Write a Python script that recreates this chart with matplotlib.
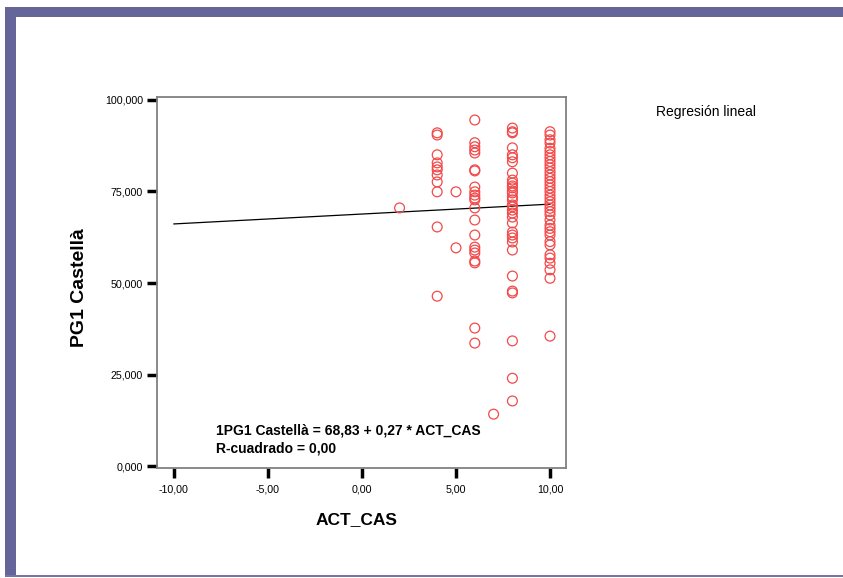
import matplotlib
matplotlib.use("Agg")
import matplotlib.pyplot as plt
from matplotlib.patches import Rectangle

plt.rcParams['font.family'] = ['Liberation Sans', 'DejaVu Sans']

# valores (ACT_CAS, PG1 Castella)
x2 = [2]
y2 = [70.5]
x4 = [4] * 11
y4 = [91.0, 90.4, 85.0, 82.8, 81.7, 80.9, 79.5, 77.6, 74.9, 65.3, 46.4]
x5 = [5] * 2
y5 = [74.9, 59.6]
x6 = [6] * 22
y6 = [94.5, 88.3, 87.2, 86.3, 85.5, 80.9, 80.6, 76.2, 74.9, 74.0, 73.2, 72.7,
      70.5, 67.2, 63.1, 59.8, 59.0, 58.2, 56.0, 55.5, 37.7, 33.6]
x7 = [7]
y7 = [14.2]
x8 = [8] * 33
y8 = [92.3, 91.3, 91.0, 86.9, 85.0, 84.2, 83.1, 80.0, 78.1, 77.3, 76.5, 76.0,
      75.1, 74.6, 72.7, 71.3, 70.8, 69.9, 69.1, 66.4, 63.9, 63.1, 62.3, 61.2,
      59.0, 51.9, 47.8, 47.3, 34.2, 24.0, 17.8, 73.5, 68.0]
x10 = [10] * 38
y10 = [91.3, 90.4, 89.1, 88.2, 86.8, 85.9, 85.0, 84.1, 83.2, 82.3, 81.4, 80.4,
       79.5, 78.6, 77.7, 76.8, 75.9, 75.0, 74.0, 73.1, 72.2, 71.3, 70.4, 69.5,
       68.6, 67.2, 65.8, 64.9, 64.0, 63.1, 61.3, 60.4, 57.7, 56.8, 55.4, 53.6,
       51.3, 35.5]

act_cas = x2 + x4 + x5 + x6 + x7 + x8 + x10
pg1 = y2 + y4 + y5 + y6 + y7 + y8 + y10

intercept = 68.83
slope = 0.27
fit_x = [-10, 10]

xticks = [-10, -5, 0, 5, 10]
xtick_labels = ['-10,00', '-5,00', '0,00', '5,00', '10,00']
yticks = [0, 25, 50, 75, 100]
ytick_labels = ['0,000', '25,000', '50,000', '75,000', '100,000']

fig = plt.figure(figsize=(8.43, 5.78), dpi=100)

# marco morado
purple = '#65659a'
W, H = 843., 578.
fig.patches.append(Rectangle((5 / W, 1 - 17 / H), 1 - 5 / W, 10 / H, transform=fig.transFigure,
                             facecolor=purple, edgecolor='none', zorder=0))
fig.patches.append(Rectangle((5 / W, 1 - 577 / H), 11 / W, 570 / H, transform=fig.transFigure,
                             facecolor=purple, edgecolor='none', zorder=0))
fig.patches.append(Rectangle((5 / W, 1 - 577 / H), 1 - 5 / W, 2 / H, transform=fig.transFigure,
                             facecolor='#7474a8', edgecolor='none', zorder=0))

ax = fig.add_axes([157 / W, 1 - 468 / H, 409 / W, 370.7 / H])
ax.scatter(act_cas, pg1, s=50, facecolors='none', edgecolors='#f24a4a', linewidths=0.9, zorder=3)
ax.plot(fit_x, [intercept + slope * v for v in fit_x], color='black', lw=0.9, zorder=2)

ax.set_xlim(-10.9, 10.85)
ax.set_ylim(-0.5, 100.7)
ax.set_xticks(xticks)
ax.set_xticklabels(xtick_labels)
ax.set_yticks(yticks)
ax.set_yticklabels(ytick_labels)
ax.tick_params(direction='out', length=7, width=2.5, color='black', labelsize=7.7, pad=3)
ax.tick_params(axis='x', pad=5)
for s in ax.spines.values():
    s.set_color('#808080')
    s.set_linewidth(1.3)

ax.text(-7.75, 9.8, '1PG1 Castellà = 68,83 + 0,27 * ACT_CAS', fontsize=10, fontweight='bold', va='center')
ax.text(-7.75, 4.9, 'R-cuadrado = 0,00', fontsize=10, fontweight='bold', va='center')

fig.text(80 / W, 1 - 288 / H, 'PG1 Castellà', rotation=90, fontsize=14, fontweight='bold',
         ha='center', va='center')
fig.text(356 / W, 1 - 520 / H, 'ACT_CAS', fontsize=12.5, fontweight='bold', ha='center', va='center')
fig.text(706 / W, 1 - 112 / H, 'Regresión lineal', fontsize=10, ha='center', va='center')

fig.savefig('out.png', dpi=100)
